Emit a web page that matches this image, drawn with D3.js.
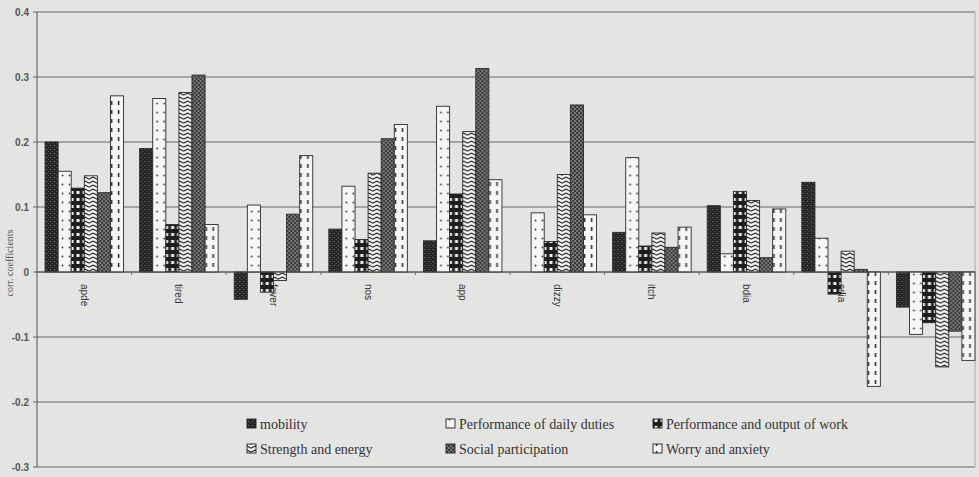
<!DOCTYPE html>
<html><head><meta charset="utf-8">
<script src="https://cdn.jsdelivr.net/npm/d3@7/dist/d3.min.js"></script>
<style>
html,body{margin:0;padding:0;background:#e4e4e2;}
svg{display:block;}
</style></head>
<body>
<svg id="chart" width="979" height="477"></svg>
<script>
const categories = ["apde","tired","fever","nos","app","dizzy","itch","bdia","cdia","cons"];
const seriesNames = ["mobility","Performance of daily duties","Performance and output of work","Strength and energy","Social participation","Worry and anxiety"];
const mobility    = [0.200, 0.190, -0.042, 0.066, 0.048, 0.000, 0.061, 0.102, 0.138, -0.054];
const dailyDuties = [0.155, 0.267,  0.103, 0.132, 0.255, 0.091, 0.176, 0.028, 0.052, -0.096];
const workOutput  = [0.129, 0.073, -0.031, 0.050, 0.120, 0.047, 0.040, 0.124, -0.034, -0.078];
const strength    = [0.148, 0.276, -0.013, 0.152, 0.216, 0.150, 0.060, 0.110, 0.032, -0.146];
const social      = [0.122, 0.303,  0.089, 0.205, 0.313, 0.257, 0.038, 0.022, 0.004, -0.091];
const worry       = [0.271, 0.073,  0.179, 0.227, 0.142, 0.088, 0.069, 0.097, -0.176, -0.136];
const yTicks = [-0.3, -0.2, -0.1, 0, 0.1, 0.2, 0.3, 0.4];
const yTitle = "corr. coefficients";

const seriesValues = [mobility, dailyDuties, workOutput, strength, social, worry];
const patternIds = ["pMob","pDaily","pWork","pStr","pSoc","pWorry"];
const SERIF = '"Liberation Serif", "DejaVu Serif", serif';
const SANS = '"Liberation Sans", Arial, sans-serif';

const svg = d3.select("#chart");
const W = 979, H = 477;
const plotLeft = 37, plotRight = 975;

svg.append("rect").attr("width", W).attr("height", H).attr("fill", "#e4e4e2");

// patterns
const defs = svg.append("defs");
function pat(id, w, h){ return defs.append("pattern").attr("id", id).attr("patternUnits","userSpaceOnUse").attr("width", w).attr("height", h); }
let p = pat("pMob", 4, 4);
p.append("rect").attr("width",4).attr("height",4).attr("fill","#262626");
p.append("rect").attr("x",1).attr("y",1).attr("width",1).attr("height",1).attr("fill","#7a7a7a");
p.append("rect").attr("x",3).attr("y",3).attr("width",1).attr("height",1).attr("fill","#555");

p = pat("pDaily", 7, 9);
p.append("rect").attr("width",7).attr("height",9).attr("fill","#f6f6f4");
p.append("circle").attr("cx",3.5).attr("cy",4.5).attr("r",0.9).attr("fill","#333");

p = pat("pWork", 6, 7);
p.append("rect").attr("width",6).attr("height",7).attr("fill","#1e1e1e");
p.append("rect").attr("x",1.5).attr("y",2).attr("width",3).attr("height",3).attr("fill","#f2f2f2");

p = pat("pStr", 8, 4);
p.append("rect").attr("width",8).attr("height",4).attr("fill","#f2f2f0");
p.append("path").attr("d","M0,1 L4,3.2 L8,1").attr("fill","none").attr("stroke","#222").attr("stroke-width",1.1);

p = pat("pSoc", 4, 4);
p.append("rect").attr("width",4).attr("height",4).attr("fill","#3a3a3a");
p.append("circle").attr("cx",1).attr("cy",1).attr("r",0.8).attr("fill","#c8c8c8");
p.append("circle").attr("cx",3).attr("cy",3).attr("r",0.8).attr("fill","#c8c8c8");

p = pat("pWorry", 7, 9);
p.append("rect").attr("width",7).attr("height",9).attr("fill","#f6f6f4");
p.append("rect").attr("x",2.8).attr("y",2).attr("width",1.6).attr("height",4).attr("fill","#333");

// scales
const y = d3.scaleLinear().domain([-0.3, 0.4]).range([467, 12]);
const x0 = d3.scaleBand().domain(categories).range([plotLeft, 983]).paddingInner(0.17).paddingOuter(0.085);
const x1 = d3.scaleBand().domain(seriesNames).range([0, x0.bandwidth()]);

// gridlines
svg.append("g").selectAll("line").data(yTicks).join("line")
  .attr("x1", plotLeft - 4).attr("x2", plotRight)
  .attr("y1", d => y(d)).attr("y2", d => y(d))
  .attr("stroke", "#666").attr("stroke-width", 1);

// left axis and right border
svg.append("line").attr("x1", plotLeft).attr("x2", plotLeft).attr("y1", y(0.4)).attr("y2", y(-0.3)).attr("stroke","#555");
svg.append("line").attr("x1", plotRight).attr("x2", plotRight).attr("y1", y(0.4)).attr("y2", y(-0.3)).attr("stroke","#aaa");

// y tick labels
svg.append("g").selectAll("text").data(yTicks).join("text")
  .style("font-family", SANS)
  .attr("x", 29).attr("y", d => y(d)).attr("dy", "0.35em")
  .attr("text-anchor", "end")
  .attr("font-size", 10).attr("font-weight", "bold").attr("fill", "#555")
  .text(d => d === 0 ? "0" : d.toFixed(1));

// y title
svg.append("text")
  .style("font-family", SERIF)
  .attr("transform", `translate(13,${263}) rotate(-90)`)
  .attr("text-anchor", "middle")
  .attr("font-size", 10).attr("fill", "#555")
  .text(yTitle);

// category labels (drawn before bars, bars may cover them)
svg.append("g").selectAll("text").data(categories).join("text")
  .style("font-family", SANS)
  .attr("transform", d => `translate(${x0(d) + x0.bandwidth()/2 - 3.5},284) rotate(90)`)
  .attr("text-anchor", "start")
  .attr("font-size", 10).attr("fill", "#333")
  .text(d => d);

// category ticks on zero line
svg.append("g").selectAll("line").data(categories.slice(1)).join("line")
  .attr("x1", d => x0(d) - x0.step()*x0.paddingInner()/2).attr("x2", d => x0(d) - x0.step()*x0.paddingInner()/2)
  .attr("y1", y(0)).attr("y2", y(0) + 3)
  .attr("stroke", "#777");

// bars
const groups = svg.append("g").selectAll("g").data(categories).join("g")
  .attr("transform", d => `translate(${x0(d)},0)`);
groups.selectAll("rect")
  .data((c, ci) => seriesNames.map((s, si) => ({s, si, v: seriesValues[si][ci]})))
  .join("rect")
  .attr("x", d => x1(d.s))
  .attr("width", x1.bandwidth())
  .attr("y", d => y(Math.max(0, d.v)))
  .attr("height", d => Math.abs(y(d.v) - y(0)))
  .attr("fill", d => `url(#${patternIds[d.si]})`)
  .attr("stroke", "#2a2a2a").attr("stroke-width", 0.9);

// zero line
svg.append("line").attr("x1", plotLeft).attr("x2", plotRight).attr("y1", y(0)).attr("y2", y(0)).attr("stroke","#555");

// legend
const legendCols = [247, 446, 653];
const legendRows = [424, 449];
const leg = svg.append("g").selectAll("g").data(seriesNames).join("g")
  .attr("transform", (d, i) => `translate(${legendCols[i % 3]},${legendRows[Math.floor(i / 3)]})`);
leg.append("rect").attr("x", 0).attr("y", -5).attr("width", 9).attr("height", 9)
  .attr("fill", (d, i) => `url(#${patternIds[i]})`).attr("stroke", "#222").attr("stroke-width", 0.9);
leg.append("text").style("font-family", SERIF).attr("x", 13).attr("y", 0).attr("dy", "0.35em")
  .attr("font-size", 14).attr("fill", "#333")
  .text(d => d);
</script>
</body></html>
